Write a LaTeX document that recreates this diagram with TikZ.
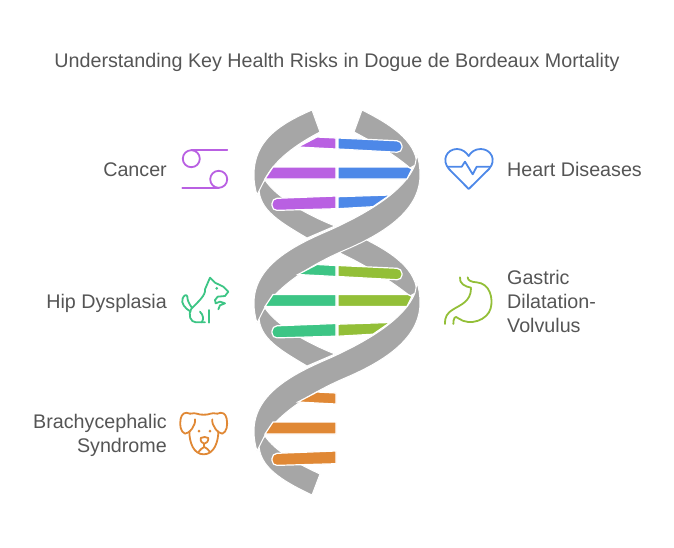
\documentclass[tikz,border=0pt]{standalone}
\usepackage{fontspec}
\setmainfont{Liberation Sans}
\definecolor{helixgray}{HTML}{A6A6A6}
\definecolor{labelgray}{HTML}{555555}
\definecolor{cancerleft}{HTML}{B960E2}
\definecolor{heartright}{HTML}{4D88E8}
\definecolor{hipleft}{HTML}{3DC585}
\definecolor{gastricright}{HTML}{93BF38}
\definecolor{brachyleft}{HTML}{E08835}
\tikzset{
  ribbon/.style={fill=helixgray, draw=white, line width=1pt},
  rung/.style={draw=white, line width=1.2pt},
  icon/.style={line width=1.8pt, line cap=round, line join=round},
  label/.style={text=labelgray, inner sep=0pt, font=\fontsize{19.7}{24}\selectfont},
}
\begin{document}
\begin{tikzpicture}[x=1pt, y=-1pt]
	    \useasboundingbox (0, 0) rectangle (674, 547);

	    \node[label] (title) at (337, 62.5) {Understanding Key Health Risks in Dogue de Bordeaux Mortality};

	    % back strands of the helix
	    \foreach \k in {0, 128} {
	      \draw[ribbon, shift={(0,\k)}] (265,180) .. controls (275,195) and (300,212) .. (335,226)
	          -- (307,238) .. controls (280,222) and (259,210) .. (259,188) -- cycle;
	    };
	    \draw[ribbon] (265,436) .. controls (275,451) and (298,464) .. (320,474)
	        -- (312,495) .. controls (280,480) and (259,466) .. (259,444) -- cycle;
	    \draw[ribbon] (362,110) .. controls (390,124) and (415,140) .. (417,164)
	        -- (410,168) .. controls (395,155) and (375,143) .. (354,132) -- cycle;
	    \draw[ribbon] (350,232) .. controls (385,248) and (415,265) .. (417,292)
	        -- (410,296) .. controls (390,280) and (365,265) .. (340,253) -- cycle;
	    \draw[ribbon] (312,110) .. controls (280,124) and (254,140) .. (254,175) .. controls (254,182) and (255,188) .. (257,195)
	        -- (265,179) .. controls (275,160) and (295,145) .. (320,132) -- cycle;

	    % front strands
	    \foreach \k in {128, 0} {
	      \draw[ribbon, shift={(0,\k)}] (415,165) .. controls (405,190) and (370,212) .. (330,230)
	          .. controls (295,245) and (254,265) .. (254,303) .. controls (254,310) and (255,316) .. (257,323)
	          -- (265,307) .. controls (280,285) and (310,265) .. (345,250)
	          .. controls (385,233) and (420,210) .. (420,175) .. controls (420,168) and (419,160) .. (417,155) -- cycle;
	    };

	    % rungs on the left, all three pairs
	    \foreach \k/\c in {0/cancerleft, 127.5/hipleft, 255/brachyleft} {
	      \draw[rung, fill=\c, shift={(0,\k)}] (298,147) -- (317,137) -- (336,138) -- (336,149) -- cycle;
	      \draw[rung, fill=\c, shift={(0,\k)}] (265,179) -- (273,167) -- (336,167) -- (336,179) -- cycle;
	      \draw[rung, fill=\c, shift={(0,\k)}] (336,196) [rounded corners=5pt] -- (272,198.5) -- (272,210.5) [sharp corners] -- (336,208.7) -- cycle;
	    };

	    % rungs on the right, only two of them
	    \foreach \k/\c in {0/heartright, 127.5/gastricright} {
	      \draw[rung, fill=\c, shift={(0,\k)}] (338,138) [rounded corners=5pt] -- (402,141) -- (402,152.5) [sharp corners] -- (338,149) -- cycle;
	      \draw[rung, fill=\c, shift={(0,\k)}] (338,167) -- (408,167) -- (412,169) -- (407,179) -- (338,179) -- cycle;
	      \draw[rung, fill=\c, shift={(0,\k)}] (338,196.7) -- (390,195) -- (373,206.7) -- (338,208.7) -- cycle;
	    };

	    % labels
	    \node[label, anchor=east] (cancer) at (167, 169.5) {Cancer};
	    \node[label, anchor=west] (heart) at (507, 169.5) {Heart Diseases};
	    \node[label, anchor=east] (hip) at (167, 303) {Hip Dysplasia};
	    \node[label, anchor=west, align=left] (gastric) at (507, 301) {Gastric\\Dilatation-\\Volvulus};
	    \node[label, anchor=east, align=right] (brachy) at (167, 435) {Brachycephalic\\Syndrome};

	    % cancer icon
	    \draw[icon, cancerleft] (191.3, 158.7) circle (8.5);
	    \draw[icon, cancerleft] (218.7, 179.3) circle (8.5);
	    \draw[icon, cancerleft] (191.3, 150) -- (227.3, 150);
	    \draw[icon, cancerleft] (182.3, 188) -- (218.7, 188);

	    % heart icon
	    \draw[icon, heartright] (468.7, 189) -- (449, 169) .. controls (441, 160) and (447, 149) .. (457, 149)
	        .. controls (462, 149) and (466, 152) .. (468.7, 156) .. controls (471, 152) and (475, 149) .. (480.7, 149)
	        .. controls (491, 149) and (497, 160) .. (489, 169) -- cycle;
	    \draw[icon, heartright] (448.3, 166.7) -- (461.7, 166.7) -- (465, 161.7) -- (472.7, 174.3) -- (476.7, 166.7) -- (489.3, 166.7);

	    % hip dog icon, traced from the crop so units are a third of a pixel
	    \begin{scope}[shift={(170, 270)}, x=.3333pt, y=-.3333pt]
	      \draw[icon, hipleft] (62,125) .. controls (45,115) and (32,100) .. (38,85) .. controls (42,75) and (50,72) .. (52,80)
	          .. controls (52,92) and (58,102) .. (65,112);
	      \draw[icon, hipleft] (105,157) -- (78,157) .. controls (62,157) and (52,135) .. (65,115)
	          .. controls (85,95) and (108,75) .. (105,58) -- (120,23) -- (135,38) -- (160,50) -- (175,65) -- (165,78) -- (143,80)
	          -- (135,90) -- (137,100) -- (150,95) -- (165,100) -- (150,106) -- (145,118);
	      \draw[icon, hipleft] (118,120) -- (118,158);
	      \draw[icon, hipleft] (90,125) .. controls (100,135) and (102,148) .. (95,157);
	      \fill[hipleft] (140,55) circle (4.5);
	    \end{scope}

	    % stomach icon
	    \begin{scope}[shift={(435, 270)}, x=.3333pt, y=-.3333pt]
	      \draw[icon, gastricright] (75,22) .. controls (72,40) and (90,50) .. (108,53);
	      \draw[icon, gastricright] (98,22) .. controls (98,32) and (110,36) .. (125,37)
	          .. controls (165,40) and (175,85) .. (167,115) .. controls (158,150) and (105,170) .. (70,145)
	          .. controls (60,135) and (55,145) .. (55,162);
	      \draw[icon, gastricright] (108,55) .. controls (108,95) and (75,105) .. (55,118) .. controls (35,130) and (30,140) .. (30,162);
	    \end{scope}

	    % brachycephalic dog icon
	    \begin{scope}[shift={(170, 402)}, x=.3333pt, y=-.3333pt]
	      \draw[icon, brachyleft] (60,35) .. controls (45,28) and (35,35) .. (32,50) .. controls (28,70) and (32,90) .. (45,95)
	          .. controls (58,95) and (78,70) .. (75,52);
	      \draw[icon, brachyleft] (142,35) .. controls (157,28) and (167,35) .. (170,50) .. controls (174,70) and (170,90) .. (157,95)
	          .. controls (144,95) and (124,70) .. (127,52);
	      \draw[icon, brachyleft] (60,35) .. controls (80,30) and (85,40) .. (101,38) .. controls (117,40) and (122,30) .. (142,35);
	      \draw[icon, brachyleft] (58,88) .. controls (58,120) and (70,157) .. (101,157) .. controls (132,157) and (145,120) .. (145,88);
	      \draw[icon, brachyleft] (92,108) .. controls (100,104) and (108,104) .. (115,108) .. controls (116,118) and (108,125) .. (103,125)
	          .. controls (98,125) and (90,118) .. (92,108);
	      \draw[icon, brachyleft] (103,125) -- (103,135);
	      \draw[icon, brachyleft] (85,150) .. controls (90,142) and (98,138) .. (103,135) .. controls (108,138) and (116,142) .. (120,150);
	      \fill[brachyleft] (87,87) circle (4.5);
	      \fill[brachyleft] (120,87) circle (4.5);
	    \end{scope}
\end{tikzpicture}
\end{document}
